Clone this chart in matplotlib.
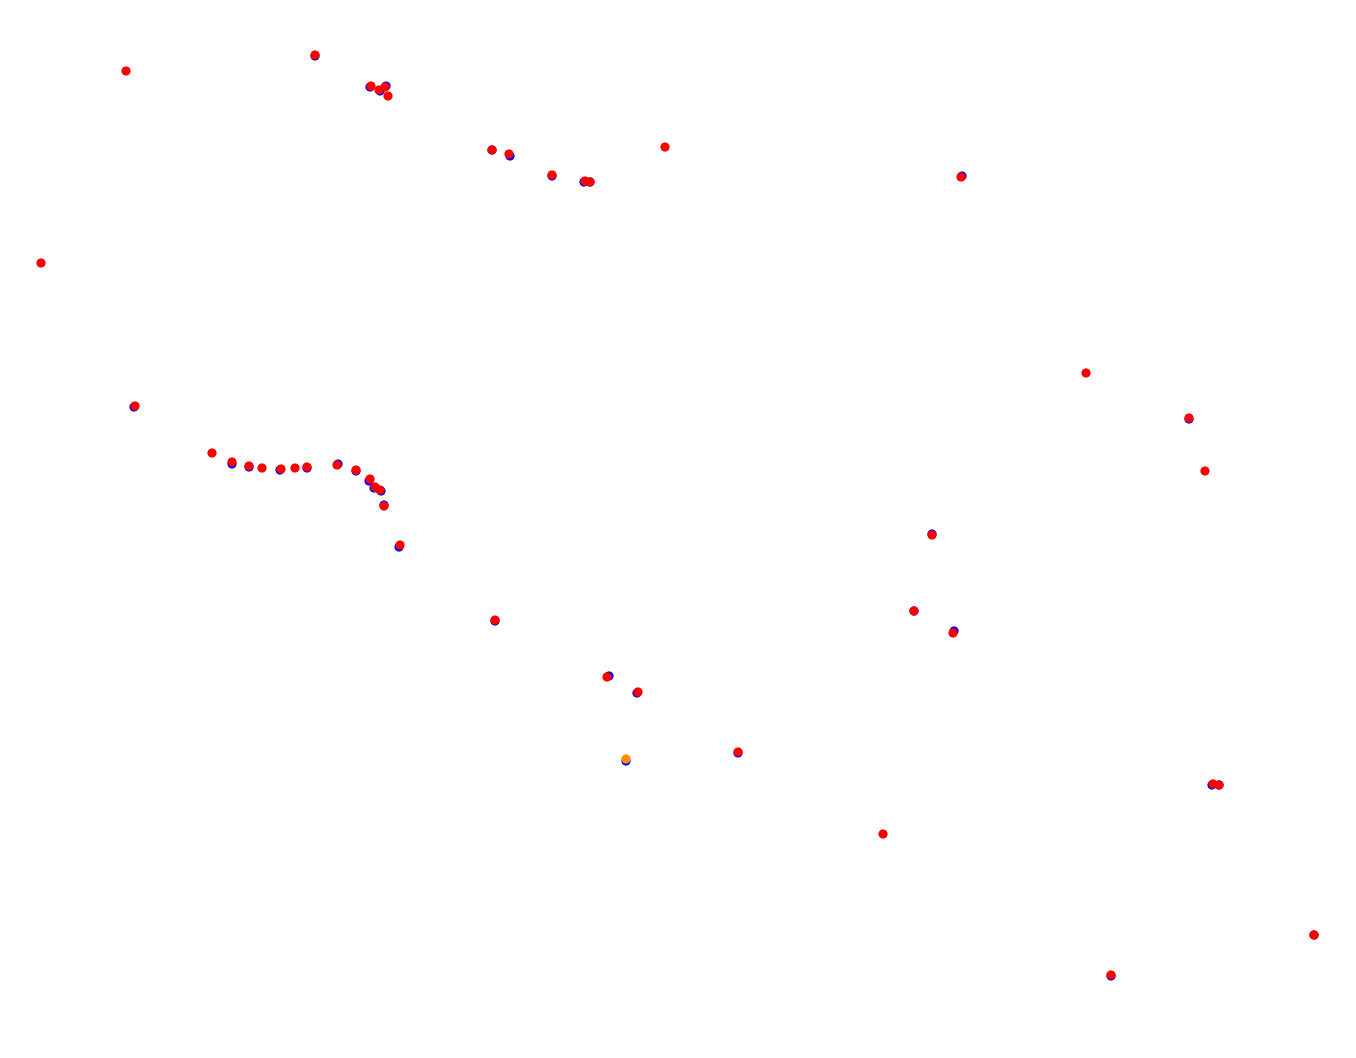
import matplotlib
matplotlib.use('Agg')
import matplotlib.pyplot as plt

# positions of the points (plot units, y grows downward)
blue_x = [315, 370, 380, 386, 492, 510, 552, 584, 590, 962, 134, 232, 249, 280, 307,
          338, 356, 369, 374, 381, 384, 399, 495, 609, 637, 626, 738, 914, 932, 954,
          1189, 1212, 1219, 1111, 1314]
blue_y = [56, 87, 91, 86, 150, 156, 176, 182, 182, 176, 407, 464, 467, 470, 468,
          464, 471, 481, 488, 491, 505, 547, 621, 676, 693, 761, 753, 611, 534, 631,
          419, 785, 785, 976, 935]

red_x = [126, 315, 371, 379, 385, 388, 492, 509, 552, 585, 590, 665, 961, 41, 135,
         212, 232, 249, 262, 281, 295, 307, 337, 356, 370, 375, 380, 384, 400, 495,
         607, 638, 738, 883, 914, 932, 953, 1086, 1189, 1205, 1213, 1219, 1111, 1314]
red_y = [71, 55, 86, 90, 87, 96, 150, 154, 175, 181, 182, 147, 177, 263, 406,
         453, 462, 466, 468, 469, 468, 467, 465, 470, 479, 487, 490, 506, 545, 620,
         677, 692, 752, 834, 611, 535, 633, 373, 418, 471, 784, 785, 975, 935]

orange_x = [626]
orange_y = [759]


def main():
    fig = plt.figure(figsize=(13.56, 10.58), dpi=100)
    ax = fig.add_axes([0, 0, 1, 1])
    ax.scatter(blue_x, blue_y, s=44, color='blue', edgecolors='none')
    ax.scatter(red_x, red_y, s=44, color='red', edgecolors='none')
    ax.scatter(orange_x, orange_y, s=44, color='darkorange', edgecolors='none')
    ax.set_xlim(0, 1356)
    ax.set_ylim(1058, 0)
    ax.axis('off')
    plt.savefig('out.png', dpi=100)
    plt.close()


if __name__ == "__main__":
    main()
